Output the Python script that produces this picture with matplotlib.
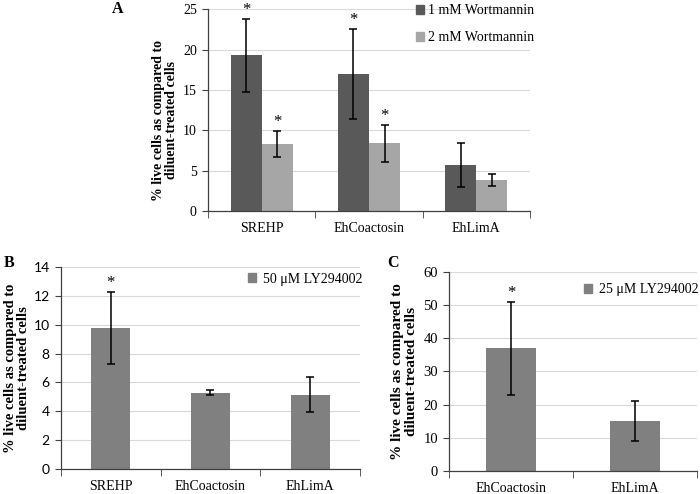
import matplotlib
matplotlib.use("Agg")
import matplotlib.pyplot as plt
from matplotlib.patches import Patch
import numpy as np

plt.rcParams['font.family'] = ['Liberation Serif', 'DejaVu Serif']

# ---- data ----
catsA = ["SREHP", "EhCoactosin", "EhLimA"]
wort1 = [19.3, 17.0, 5.7]
wort1_err = [4.5, 5.6, 2.7]
wort2 = [8.3, 8.4, 3.8]
wort2_err = [1.6, 2.3, 0.75]
sigA1 = [True, True, False]
sigA2 = [True, True, False]

catsB = ["SREHP", "EhCoactosin", "EhLimA"]
ly50 = [9.8, 5.3, 5.15]
ly50_err = [2.5, 0.2, 1.2]
sigB = [True, False, False]

catsC = ["EhCoactosin", "EhLimA"]
ly25 = [37.0, 15.0]
ly25_err = [14.0, 6.0]
sigC = [True, False]

ylab = "% live cells as compared to\ndiluent-treated cells"

fig = plt.figure(figsize=(7, 4.94), dpi=100)

axA = fig.add_axes([0.2971, 0.5729, 0.46, 0.4079])
axB = fig.add_axes([0.0871, 0.0506, 0.4271, 0.4089])
axC = fig.add_axes([0.6414, 0.0466, 0.3543, 0.4028])

def style(ax, ncat, ymax, ystep, ticksize, catsize, cats, tickfont=None):
    ax.set_xlim(-0.5, ncat - 0.5)
    ax.set_ylim(0, ymax)
    ax.set_yticks(np.arange(0, ymax + 0.001, ystep))
    ax.yaxis.grid(True, color='#d9d9d9', lw=0.8)
    ax.set_axisbelow(True)
    for s in ['top', 'right']:
        ax.spines[s].set_visible(False)
    for s in ['left', 'bottom']:
        ax.spines[s].set_color('#404040')
        ax.spines[s].set_linewidth(0.9)
    ax.set_xticks(np.arange(ncat))
    ax.set_xticklabels(cats, fontsize=catsize)
    ax.tick_params(axis='x', which='major', length=0, pad=8)
    ax.set_xticks(np.arange(-0.5, ncat), minor=True)
    ax.tick_params(axis='x', which='minor', length=5, color='#404040', direction='out')
    ax.tick_params(axis='y', length=4, color='#404040', labelsize=ticksize, pad=4)
    if tickfont:
        for t in ax.get_yticklabels():
            t.set_family(tickfont)

ekw = dict(ecolor='black', elinewidth=1.1, capsize=3, capthick=1.1)

# ---- Panel A ----
x = np.arange(len(catsA))
w = 0.29
axA.bar(x - w/2, wort1, w, yerr=wort1_err, color='#595959', error_kw=ekw, label='1 mM Wortmannin')
axA.bar(x + w/2, wort2, w, yerr=wort2_err, color='#a6a6a6', error_kw=ekw, label='2 mM Wortmannin')
for i in range(len(catsA)):
    if sigA1[i]:
        axA.text(x[i] - w/2, wort1[i] + wort1_err[i] + 0.1, '*', ha='center', va='bottom', fontsize=12)
    if sigA2[i]:
        axA.text(x[i] + w/2, wort2[i] + wort2_err[i] + 0.1, '*', ha='center', va='bottom', fontsize=12)
style(axA, 3, 25, 5, 10, 10, catsA)
axA.set_ylabel(ylab, fontsize=10, fontweight='bold', linespacing=1.05)
axA.yaxis.set_label_coords(-0.093, 0.45)
axA.legend(handles=[Patch(color='#595959'), Patch(color='#a6a6a6')],
           labels=['1 mM Wortmannin', '2 mM Wortmannin'],
           loc='upper left', bbox_to_anchor=(0.645, 1.025), frameon=False,
           fontsize=10, handlelength=0.6, handleheight=0.6, handletextpad=0.3,
           labelspacing=1.0, borderpad=0, borderaxespad=0)
fig.text(118/700, 1 - 9/494, 'A', fontsize=11.5, fontweight='bold', ha='center', va='center')

# ---- Panel B ----
xb = np.arange(len(catsB))
axB.bar(xb, ly50, 0.39, yerr=ly50_err, color='#808080', error_kw=ekw)
for i in range(len(catsB)):
    if sigB[i]:
        axB.text(xb[i], ly50[i] + ly50_err[i] + 0.05, '*', ha='center', va='bottom', fontsize=12)
style(axB, 3, 14, 2, 10, 10, catsB, tickfont=['Lato', 'DejaVu Sans'])
axB.set_ylabel(ylab, fontsize=10.5, fontweight='bold', linespacing=1.0)
axB.yaxis.set_label_coords(-0.102, 0.5)
axB.legend(handles=[Patch(color='#808080')], labels=['50 μM LY294002'],
           loc='center left', bbox_to_anchor=(0.625, 0.94), frameon=False,
           fontsize=10, handlelength=0.6, handleheight=0.6, handletextpad=0.5,
           borderpad=0, borderaxespad=0)
fig.text(9/700, 1 - 263/494, 'B', fontsize=11.5, fontweight='bold', ha='center', va='center')

# ---- Panel C ----
xc = np.arange(len(catsC))
axC.bar(xc, ly25, 0.4, yerr=ly25_err, color='#808080', error_kw=ekw)
for i in range(len(catsC)):
    if sigC[i]:
        axC.text(xc[i], ly25[i] + ly25_err[i] + 0.3, '*', ha='center', va='bottom', fontsize=12)
style(axC, 2, 60, 10, 10.5, 10, catsC)
axC.set_ylabel(ylab, fontsize=11, fontweight='bold', linespacing=1.05)
axC.yaxis.set_label_coords(-0.125, 0.5)
axC.legend(handles=[Patch(color='#808080')], labels=['25 μM LY294002'],
           loc='center left', bbox_to_anchor=(0.545, 0.91), frameon=False,
           fontsize=10, handlelength=0.6, handleheight=0.6, handletextpad=0.5,
           borderpad=0, borderaxespad=0)
fig.text(393/700, 1 - 263/494, 'C', fontsize=11.5, fontweight='bold', ha='center', va='center')

fig.savefig('out.png', dpi=100)
